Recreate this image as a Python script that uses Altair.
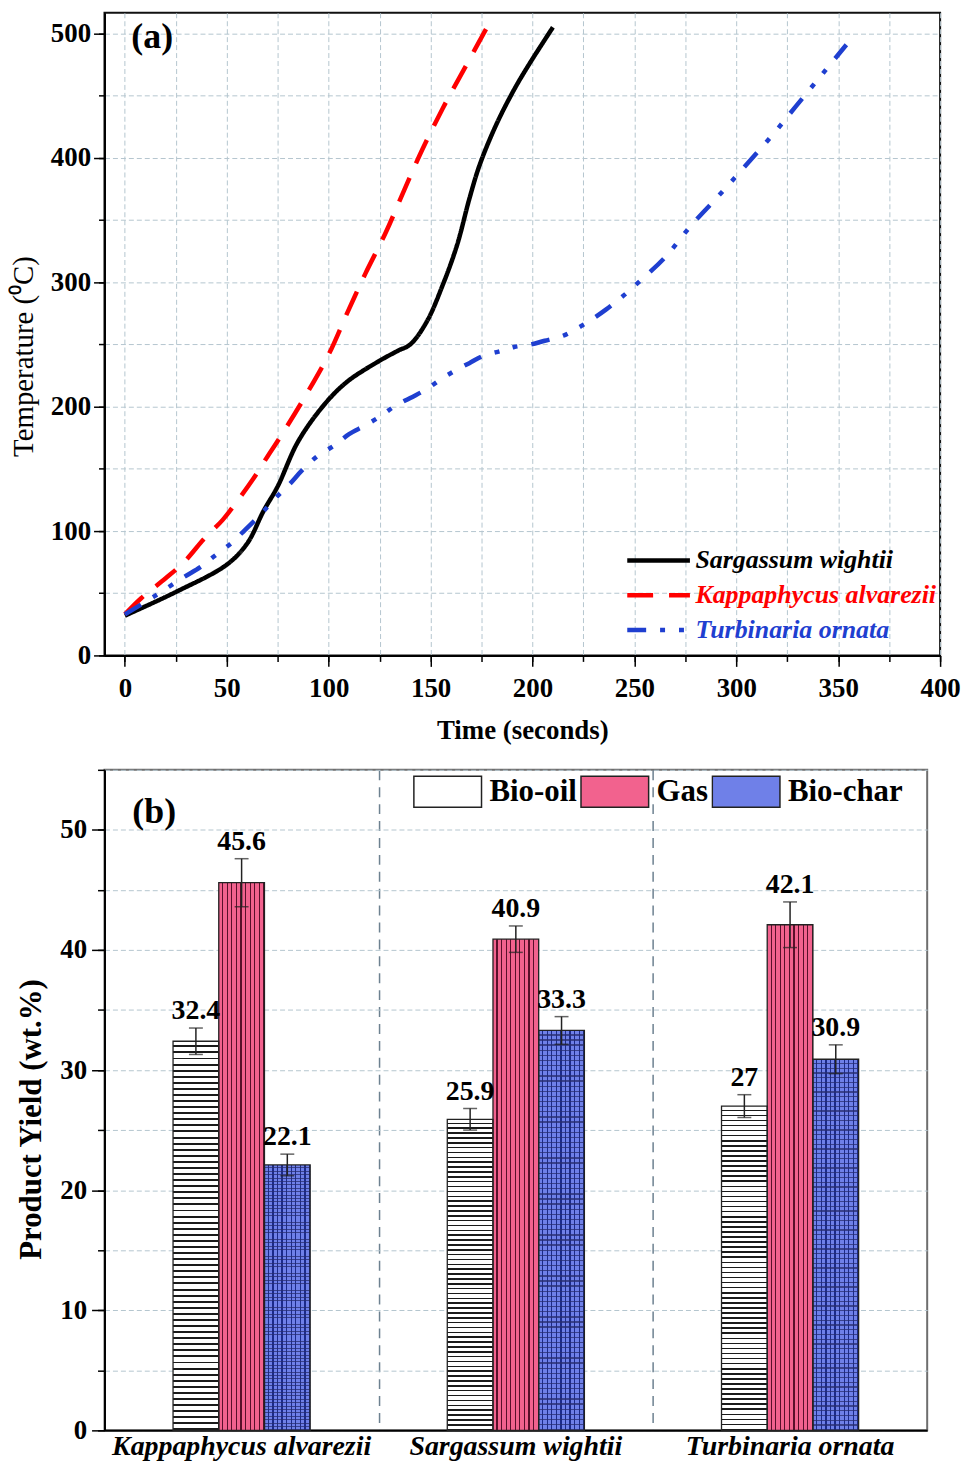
import altair as alt
import pandas as pd

FONT = "Liberation Serif"

# ---------------- panel (a): temperature profiles ----------------
series_names = ["Sargassum wightii", "Kappaphycus alvarezii", "Turbinaria ornata"]
series_colors = ["#000000", "#ff0000", "#1f3fd0"]
series_dash = [[1, 0], [26, 16], [19, 14, 5, 14, 5, 14]]

sw_t = [0, 25, 50, 60, 68, 75, 85, 98, 109, 124, 134, 140, 148, 156, 163, 169, 174, 182, 191, 199, 210]
sw_T = [32, 51, 73, 90, 116, 136, 172, 202, 220, 236, 245, 250, 268, 298, 330, 367, 394, 426, 455, 477, 505]

ka_t = [0, 8, 20, 29, 39, 48, 56, 63, 70, 76, 88, 100, 109, 118, 128, 137, 146, 156, 167, 178]
ka_T = [33, 46, 62, 75, 94, 109, 126, 142, 160, 175, 207, 242, 275, 307, 340, 374, 407, 440, 473, 506]

to_t = [0, 14, 29, 37, 44, 52, 59, 67, 73, 81, 87, 95, 103, 110, 118, 126, 132, 140, 148, 155,
        162, 169, 176, 185, 191, 199, 206, 215, 222, 229, 236, 243, 250, 265, 278, 291, 303,
        317, 329, 342, 354]
to_T = [33, 47, 63, 71, 80, 90, 101, 114, 125, 138, 149, 161, 169, 178, 185, 193, 200, 207, 214, 222,
        229, 235, 241, 245, 248, 250, 253, 257, 263, 270, 278, 287, 297, 320, 346, 369, 391,
        417, 441, 467, 491]

x_major_a = list(range(0, 401, 50))
x_minor_a = list(range(0, 401, 25))
y_major_a = list(range(0, 501, 100))
y_minor_a = list(range(0, 501, 50))

# ---------------- panel (b): product yields ----------------
species = ["Kappaphycus alvarezii", "Sargassum wightii", "Turbinaria ornata"]
types = ["Bio-oil", "Gas", "Bio-char"]
bio_oil = [32.4, 25.9, 27.0]
gas = [45.6, 40.9, 42.1]
bio_char = [22.1, 33.3, 30.9]
bio_oil_err = [1.1, 0.9, 0.95]
gas_err = [2.0, 1.1, 1.9]
bio_char_err = [0.9, 1.15, 1.2]
type_colors = ["#ffffff", "#f2628e", "#6f80e8"]

y_major_b = list(range(0, 51, 10))
y_minor_b = list(range(0, 56, 5))

panel_labels = ["(a)", "(b)"]

# ---------------- build tables ----------------
rows_a = []
for name, ts, Ts in zip(series_names, [sw_t, ka_t, to_t], [sw_T, ka_T, to_T]):
    for t, T in zip(ts, Ts):
        rows_a.append({"Series": name, "Time": t, "Temp": T})
df_a = pd.DataFrame(rows_a)

rows_b = []
for i, sp in enumerate(species):
    for tp, vals, errs in zip(types, [bio_oil, gas, bio_char], [bio_oil_err, gas_err, bio_char_err]):
        rows_b.append({"Species": sp, "Type": tp, "Yield": vals[i], "Err": errs[i]})
df_b = pd.DataFrame(rows_b)

GRID = "#b4c6cf"

# ---------------- chart (a) ----------------
W_A, H_A = 840, 646
xs_a = alt.Scale(domain=[-10, 400], nice=False, zero=False)
ys_a = alt.Scale(domain=[0, 516.7], nice=False, zero=False)

minor_a = alt.Chart(df_a).mark_line(strokeOpacity=0).encode(
    x=alt.X("Time:Q", scale=xs_a, axis=alt.Axis(
        orient="bottom", values=x_minor_a, labels=False, title=None, domain=False,
        tickSize=6, tickWidth=1.5, tickColor="black",
        grid=True, gridColor=GRID, gridDash=[5, 3], gridWidth=1)),
    y=alt.Y("Temp:Q", scale=ys_a, axis=alt.Axis(
        orient="left", values=y_minor_a, labels=False, title=None, domain=False,
        tickSize=6, tickWidth=1.5, tickColor="black",
        grid=True, gridColor=GRID, gridDash=[5, 3], gridWidth=1)),
    detail="Series:N",
)

label_expr = ""
for n, c in zip(series_names[:-1], series_colors[:-1]):
    label_expr += f"datum.label === '{n}' ? '{c}' : "
label_expr += f"'{series_colors[-1]}'"

legend_a = alt.Legend(
    title=None, orient="none", legendX=523, legendY=533,
    symbolType="stroke", symbolSize=3969, symbolStrokeWidth=4.5,
    clipHeight=35, rowPadding=0, padding=0,
    labelFont=FONT, labelFontSize=26, labelFontStyle="italic", labelFontWeight="bold",
    labelColor=alt.ExprRef(expr=label_expr), labelOffset=3, labelLimit=400,
)

lines_a = alt.Chart(df_a).mark_line(strokeWidth=4.5, interpolate="catmull-rom").encode(
    x=alt.X("Time:Q", scale=xs_a, axis=alt.Axis(
        orient="bottom", values=x_major_a, title="Time (seconds)", grid=False,
        tickSize=11, tickWidth=1.5, labelFontSize=27, labelPadding=9,
        titleFontSize=27, titlePadding=17, labelFlush=False)),
    y=alt.Y("Temp:Q", scale=ys_a, axis=alt.Axis(
        orient="left", values=y_major_a, title="Temperature (\u2070C)", grid=False,
        tickSize=11, tickWidth=1.5, labelFontSize=27, labelPadding=3,
        titleFontSize=29, titleFontWeight="normal", titlePadding=12, titleY=H_A / 2 + 22)),
    color=alt.Color("Series:N", scale=alt.Scale(domain=series_names, range=series_colors), legend=legend_a),
    strokeDash=alt.StrokeDash("Series:N", scale=alt.Scale(domain=series_names, range=series_dash), legend=legend_a),
)

label_a = alt.Chart(pd.DataFrame({"panel": panel_labels[:1]})).mark_text(
    font=FONT, fontSize=36, fontWeight="bold", color="black", align="left", baseline="alphabetic"
).encode(text="panel:N", x=alt.value(27), y=alt.value(35))

top = alt.layer(minor_a, lines_a, label_a).resolve_axis(x="independent", y="independent").properties(
    width=W_A, height=H_A,
    view=alt.ViewBackground(stroke="#111111", strokeWidth=2),
)

# ---------------- chart (b) ----------------
W_B, H_B = 827, 664
PAD_IN, PAD_OUT = 0.5, 0.25
STEP_B = W_B / (len(species) - PAD_IN + 2 * PAD_OUT)
SEP_SHIFT = -STEP_B * PAD_IN / 2   # from band start back to the group boundary


def stripes(direction, n, line_color, frac, bg="rgba(255,255,255,0)"):
    stops = []
    for i in range(n):
        s = i / n
        m = (i + 1 - frac) / n
        e = (i + 1) / n
        stops += [alt.GradientStop(offset=round(s, 5), color=bg),
                  alt.GradientStop(offset=round(m, 5), color=bg),
                  alt.GradientStop(offset=round(m, 5), color=line_color),
                  alt.GradientStop(offset=round(e, 5), color=line_color)]
    if direction == "v":
        return alt.LinearGradient(gradient="linear", stops=stops, x1=0, y1=0, x2=1, y2=0)
    return alt.LinearGradient(gradient="linear", stops=stops, x1=0, y1=0, x2=0, y2=1)


ys_b = alt.Scale(domain=[0, 55], nice=False, zero=True)
xsc_b = alt.Scale(paddingInner=PAD_IN, paddingOuter=PAD_OUT)


def xb(axis=None):
    return alt.X("Species:N", sort=species, scale=xsc_b, axis=axis)


xo_b = alt.XOffset("Type:N", scale=alt.Scale(domain=types, paddingInner=0, paddingOuter=0))

base_b = alt.Chart(df_b)

guides_b = base_b.mark_bar(opacity=0).encode(
    x=xb(alt.Axis(orient="bottom", labels=False, ticks=False, domain=False, title=None,
                  grid=True, bandPosition=0, tickOffset=SEP_SHIFT,
                  gridDash=[10, 7], gridColor="#6d8190", gridWidth=1.5)),
    xOffset=xo_b,
    y=alt.Y("Yield:Q", scale=ys_b, axis=alt.Axis(
        orient="left", values=y_minor_b, labels=False, title=None, domain=False,
        tickSize=7, tickWidth=1.5, tickColor="black",
        grid=True, gridColor=GRID, gridDash=[5, 3], gridWidth=1)),
)

legend_b = alt.Legend(
    title=None, orient="none", legendX=310, legendY=5, direction="horizontal",
    symbolType="M-1,-0.456H1V0.456H-1Z", symbolSize=4624,
    symbolStrokeColor="#222222", symbolStrokeWidth=1.5, symbolOpacity=1,
    clipHeight=34, padding=0, columnPadding=3,
    labelFont=FONT, labelFontSize=31, labelFontWeight="bold", labelColor="black", labelOffset=7,
)

bars_b = base_b.mark_bar(strokeWidth=0).encode(
    x=xb(alt.Axis(orient="bottom", title=None, ticks=False, grid=False, labelAngle=0,
                  labelFontSize=28, labelFontStyle="italic", labelFontWeight="bold",
                  labelPadding=2, labelLimit=500, domainWidth=2)),
    xOffset=xo_b,
    y=alt.Y("Yield:Q", scale=ys_b, axis=alt.Axis(
        orient="left", values=y_major_b, title="Product Yield (wt.%)", grid=False,
        tickSize=13, tickWidth=1.5, labelFontSize=27, labelPadding=5,
        titleFontSize=31, titlePadding=12, titleY=H_B / 2 + 19, domainWidth=2)),
    color=alt.Color("Type:N", scale=alt.Scale(domain=types, range=type_colors), legend=legend_b),
)


def overlay(type_name, grad):
    return base_b.transform_filter(alt.datum.Type == type_name).mark_bar(fill=grad, strokeWidth=0).encode(
        x=xb(), xOffset=xo_b, y=alt.Y("Yield:Q", scale=ys_b, axis=None))


oil_h = overlay("Bio-oil", stripes("h", 64, "#1a1a1a", 0.32))
gas_v = overlay("Gas", stripes("v", 10, "#5a0f2a", 0.26))
char_v = overlay("Bio-char", stripes("v", 10, "#1b2a8a", 0.28))
char_h = overlay("Bio-char", stripes("h", 78, "rgba(40,45,110,0.75)", 0.26))

outline_b = base_b.mark_bar(fillOpacity=0, stroke="#222222", strokeWidth=1.3).encode(
    x=xb(), xOffset=xo_b, y=alt.Y("Yield:Q", scale=ys_b, axis=None))

err_base = base_b.transform_calculate(lo="datum.Yield - datum.Err", hi="datum.Yield + datum.Err")

err_rule = err_base.mark_rule(color="#222222", strokeWidth=1.5).encode(
    x=xb(), xOffset=xo_b, y=alt.Y("lo:Q", scale=ys_b, axis=None), y2="hi:Q")
cap_lo = err_base.mark_tick(color="#222222", thickness=1.5, size=14).encode(
    x=xb(), xOffset=xo_b, y=alt.Y("lo:Q", scale=ys_b, axis=None))
cap_hi = err_base.mark_tick(color="#222222", thickness=1.5, size=14).encode(
    x=xb(), xOffset=xo_b, y=alt.Y("hi:Q", scale=ys_b, axis=None))

values_b = err_base.mark_text(font=FONT, fontSize=28, fontWeight="bold", color="black",
                              baseline="alphabetic", dy=-9).encode(
    x=xb(), xOffset=xo_b, y=alt.Y("hi:Q", scale=ys_b, axis=None),
    text=alt.Text("Yield:Q", format="~g"))

label_b = alt.Chart(pd.DataFrame({"panel": panel_labels[1:]})).mark_text(
    font=FONT, fontSize=36, fontWeight="bold", color="black", align="left", baseline="alphabetic"
).encode(text="panel:N", x=alt.value(28), y=alt.value(53))

bottom = alt.layer(guides_b, bars_b, oil_h, gas_v, char_v, char_h, outline_b,
                   err_rule, cap_lo, cap_hi, values_b, label_b).resolve_axis(
    x="independent", y="independent").properties(
    width=W_B, height=H_B,
    view=alt.ViewBackground(stroke="#6e6e6e", strokeWidth=2),
)

chart = alt.vconcat(top, bottom, spacing=23).resolve_scale(
    color="independent", strokeDash="independent").properties(padding=0).configure_axis(
    labelFont=FONT, titleFont=FONT, labelColor="black", titleColor="black",
    labelFontWeight="bold", titleFontWeight="bold", domainColor="black", tickColor="black",
    domainWidth=2,
)

chart.save("out.html", embed_options={"renderer": "svg", "actions": False})
